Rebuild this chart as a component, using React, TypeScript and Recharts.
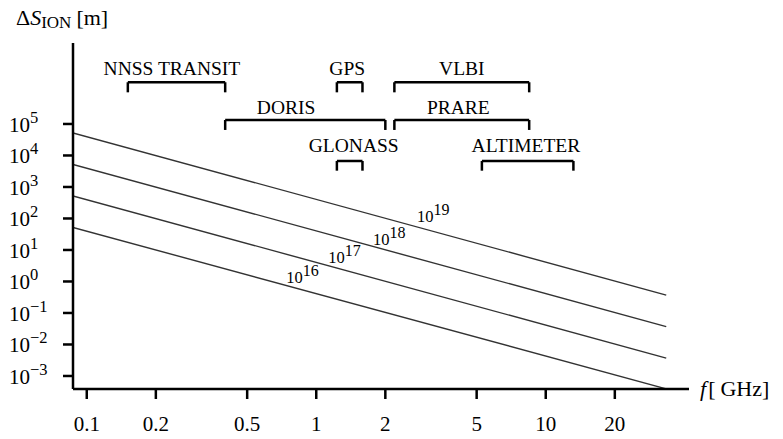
import React from 'react';
import { LineChart, Line, XAxis, YAxis, ReferenceLine, ReferenceDot, Customized } from 'recharts';

const SERIF = '"Liberation Serif", "Times New Roman", serif';

// frequency (GHz) at the start and end of each delay line
const freqGHz = [0.0871, 33.5];
// ionospheric delay [m] for each electron content
const delay19 = [5.2e4, 0.37];
const delay18 = [5.2e3, 0.037];
const delay17 = [520, 0.0037];
const delay16 = [52, 0.00039];

const xTicks = [0.1, 0.2, 0.5, 1, 2, 5, 10, 20];
const yTicks = [1e-3, 1e-2, 1e-1, 1, 1e1, 1e2, 1e3, 1e4, 1e5];

// line labels (10^exp) placed next to the lines
const tecExp = ['19', '18', '17', '16'];
const tecLabelF = [2.745, 1.767, 1.128, 0.74];
const tecLabelS = [79, 14.4, 3.86, 0.895];

// frequency bands of the systems
const bandNames = ['NNSS TRANSIT', 'GPS', 'VLBI', 'DORIS', 'PRARE', 'GLONASS', 'ALTIMETER'];
const bandLow = [0.151, 1.23, 2.19, 0.401, 2.19, 1.23, 5.27];
const bandHigh = [0.401, 1.59, 8.47, 2.0, 8.47, 1.59, 13.2];
const bandRow = [0, 0, 0, 1, 1, 2, 2];
const bandLabelF = [0.235, 1.365, 4.31, 0.739, 4.16, 1.457, 8.2];
// vertical levels of each row (in metres on the log axis)
const rowTop = [2.11e6, 1.34e5, 6.68e3];
const rowBottom = [1.01e6, 6.46e4, 3.29e3];
const rowLabel = [5.57e6, 3.34e5, 2.0e4];

const data = freqGHz.map((f, i) => ({
  f,
  s19: delay19[i],
  s18: delay18[i],
  s17: delay17[i],
  s16: delay16[i],
}));

const fmtExp = (v: number) => {
  const e = Math.round(Math.log10(v));
  return e < 0 ? '\u2212' + -e : String(e);
};

const YTick = ({ y, payload }: any) => (
  <text x={9} y={y + 8} fontFamily={SERIF} fontSize={21} fill="#000">
    <tspan>10</tspan>
    <tspan dy={-9} fontSize={16.5}>{fmtExp(payload.value)}</tspan>
  </text>
);

const XTick = ({ x, y, payload }: any) => (
  <text x={x} y={y + 30} textAnchor="middle" fontFamily={SERIF} fontSize={21} fill="#000">
    {payload.value}
  </text>
);

const AxisTitles = () => (
  <g fontFamily={SERIF} fill="#000">
    <text x={16} y={25} fontSize={22}>
      <tspan>Δ</tspan>
      <tspan fontStyle="italic">S</tspan>
      <tspan dy={3} fontSize={17}>ION</tspan>
      <tspan dy={-3} dx={5}>[m]</tspan>
    </text>
    <text x={700} y={396} fontSize={22}>
      <tspan fontStyle="italic">f</tspan>
      <tspan dx={2}>[</tspan>
      <tspan dx={5}>GHz]</tspan>
    </text>
  </g>
);

const seriesKeys = ['s19', 's18', 's17', 's16'];

export default function App() {
  return (
    <div style={{ position: 'absolute', left: 0, top: 0, background: '#fff' }}>
      <LineChart
        width={783}
        height={439}
        data={data}
        margin={{ top: 43, right: 94, bottom: 0, left: 0 }}
      >
        <XAxis
          dataKey="f"
          type="number"
          scale="log"
          domain={[0.0871, 42.1]}
          allowDataOverflow
          ticks={xTicks}
          height={50}
          tickSize={10}
          axisLine={{ stroke: '#000', strokeWidth: 2.5 }}
          tickLine={{ stroke: '#000', strokeWidth: 2.5 }}
          tick={<XTick />}
        />
        <YAxis
          type="number"
          scale="log"
          domain={[3.86e-4, 3.72e7]}
          allowDataOverflow
          ticks={yTicks}
          width={73}
          tickSize={10}
          axisLine={{ stroke: '#000', strokeWidth: 2.5 }}
          tickLine={{ stroke: '#000', strokeWidth: 2.5 }}
          tick={<YTick />}
        />
        {seriesKeys.map((k) => (
          <Line
            key={k}
            dataKey={k}
            type="linear"
            stroke="#333"
            strokeWidth={1.4}
            dot={false}
            isAnimationActive={false}
          />
        ))}
        {bandNames.flatMap((name, i) => {
          const r = bandRow[i];
          const props = { stroke: '#000', strokeWidth: 2.5, ifOverflow: 'visible' as const };
          return [
            <ReferenceLine key={name + 'h'} segment={[{ x: bandLow[i], y: rowTop[r] }, { x: bandHigh[i], y: rowTop[r] }]} {...props} />,
            <ReferenceLine key={name + 'l'} segment={[{ x: bandLow[i], y: rowTop[r] }, { x: bandLow[i], y: rowBottom[r] }]} {...props} />,
            <ReferenceLine key={name + 'r'} segment={[{ x: bandHigh[i], y: rowTop[r] }, { x: bandHigh[i], y: rowBottom[r] }]} {...props} />,
            <ReferenceDot
              key={name + 't'}
              x={bandLabelF[i]}
              y={rowLabel[r]}
              r={0}
              ifOverflow="visible"
              shape={(p: any) => (
                <text x={p.cx} y={p.cy} textAnchor="middle" dominantBaseline="central" fontFamily={SERIF} fontSize={19.5} fill="#000">
                  {name}
                </text>
              )}
            />,
          ];
        })}
        {tecExp.map((e, i) => (
          <ReferenceDot
            key={'lbl' + e}
            x={tecLabelF[i]}
            y={tecLabelS[i]}
            r={0}
            ifOverflow="visible"
            shape={(p: any) => (
              <text x={p.cx} y={p.cy} fontFamily={SERIF} fontSize={16.5} fill="#000">
                <tspan>10</tspan>
                <tspan dy={-7} fontSize={16}>{e}</tspan>
              </text>
            )}
          />
        ))}
        <Customized component={AxisTitles} />
      </LineChart>
    </div>
  );
}
